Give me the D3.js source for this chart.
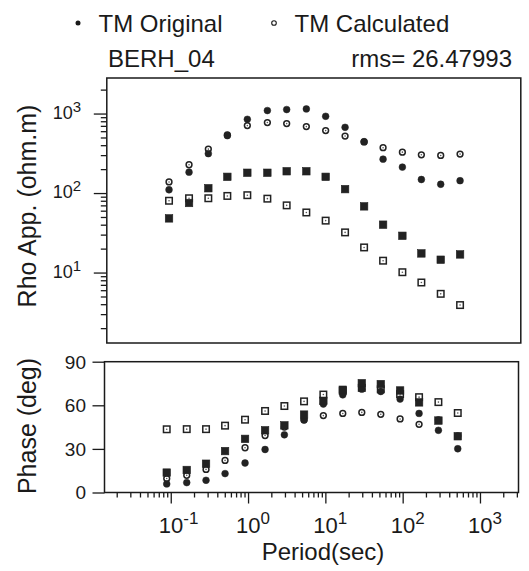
<!DOCTYPE html>
<html>
<head>
<meta charset="utf-8">
<script src="https://cdn.jsdelivr.net/npm/d3@7"></script>
<style>
  body { margin: 0; background: #fff; }
  svg { display: block; font-family: "Liberation Sans", Arial, sans-serif; fill: #1a1a1a; }
</style>
</head>
<body>
<div id="chart"></div>
<script>
/* MT sounding BERH_04: apparent resistivity and phase against period */

// periods (sec), four per decade
const periods = [0.0887, 0.161, 0.286, 0.504, 0.914, 1.66, 2.95, 5.30, 9.42, 16.8, 29.6, 52.1, 92.6, 163, 290, 516];

// apparent resistivity (ohm.m)
const rhoTmObs  = [110, 183, 313, 527, 847, 1091, 1123, 1143, 924, 671, 443, 267, 212, 148, 129, 143];
const rhoTmCalc = [138, 227, 357, 540, 705, 770, 748, 685, 610, 521, 440, 372, 327, 303, 297, 309];
const rhoTeObs  = [48, 75, 115, 160, 180, 180, 188, 188, 160, 112, 68, 40, 29, 17.4, 14.5, 16.9];
const rhoTeCalc = [80, 86, 86, 92, 94, 85, 70, 57, 45, 32, 20.7, 14.1, 10.1, 7.5, 5.4, 3.9];

// phase (deg)
const phTmObs  = [5.9, 6.8, 8.4, 13, 20.3, 29.6, 39.7, 50.1, 60.9, 67.2, 71.1, 69.5, 64.3, 54.4, 42.8, 30.1];
const phTmCalc = [9.6, 11.8, 15.9, 22.1, 30.8, 39.2, 45, 49.9, 52.9, 54.4, 55.1, 53.8, 50.6, 46.9, 50, 39];
const phTeObs  = [13.7, 15.5, 19.8, 28.5, 36.9, 42.8, 46.2, 53.6, 63.1, 70.7, 75.2, 74.6, 70.2, 62, 49.5, 38.7];
const phTeCalc = [43.5, 43.6, 43.6, 46, 50.1, 56.1, 59.5, 62.7, 67.4, 70, 72, 71, 67.7, 65.6, 62.2, 54.7];

// tick labels
const periodDecades = [-1, 0, 1, 2, 3];
const rhoDecades = [1, 2, 3];
const phaseTicks = [0, 30, 60, 90];

const station = "BERH_04",
      rmsText = "rms= 26.47993";

const width = 529,
      height = 571,
      ink = "#1a1a1a";

let svg = d3.select("#chart")
    .append("svg")
    .attr("width", width)
    .attr("height", height);

/* Scales: both panels share the period axis, the scan has the top panel nudged right */
const xTop = d3.scaleLog().domain([0.0139, 3150]).range([106.8, 520.8]);
const xBot = d3.scaleLog().domain([0.0139, 3150]).range([104.5, 518.5]);
const yRho = d3.scaleLog().domain([1.3, 2800]).range([343, 78]);
const yPh = d3.scaleLinear().domain([0, 90]).range([492.5, 361.7]);

const isDecade = v => Math.abs(Math.log10(v) - Math.round(Math.log10(v))) < 1e-9;

function styleAxis(g) {
    g.select(".domain").remove();
    g.selectAll("line").attr("stroke", ink).attr("stroke-width", 1.3);
}

/* ---- top panel: rho ---- */
svg.append("g")
    .attr("transform", `translate(${xTop.range()[0]},0)`)
    .call(d3.axisLeft(yRho).tickValues(yRho.ticks().filter(v => !isDecade(v))).tickSize(6).tickFormat(""))
    .call(styleAxis);

svg.append("g")
    .attr("transform", `translate(${xTop.range()[0]},0)`)
    .call(d3.axisLeft(yRho).tickValues(rhoDecades.map(d => 10 ** d)).tickSize(13).tickFormat(""))
    .call(styleAxis);

svg.append("rect")
    .attr("x", xTop.range()[0])
    .attr("y", yRho.range()[1])
    .attr("width", xTop.range()[1] - xTop.range()[0])
    .attr("height", yRho.range()[0] - yRho.range()[1])
    .attr("fill", "none")
    .attr("stroke", ink)
    .attr("stroke-width", 1.5);

let rhoLab = svg.selectAll(".rholab")
    .data(rhoDecades)
    .join("text")
    .attr("class", "rholab")
    .attr("x", 81)
    .attr("y", d => yRho(10 ** d) + 5)
    .attr("text-anchor", "end")
    .style("font-size", "18px");
rhoLab.append("tspan").text("10");
rhoLab.append("tspan").attr("dy", -7).style("font-size", "15px").text(d => d);

/* ---- bottom panel: phase ---- */
svg.append("g")
    .attr("transform", `translate(0,${yPh.range()[0]})`)
    .call(d3.axisBottom(xBot).tickValues(xBot.ticks().filter(v => !isDecade(v))).tickSize(5).tickFormat(""))
    .call(styleAxis);

svg.append("g")
    .attr("transform", `translate(0,${yPh.range()[0]})`)
    .call(d3.axisBottom(xBot).tickValues(periodDecades.map(d => 10 ** d)).tickSize(11).tickFormat(""))
    .call(styleAxis);

svg.append("g")
    .attr("transform", `translate(${xBot.range()[0]},0)`)
    .call(d3.axisLeft(yPh).tickValues(phaseTicks).tickSize(12).tickFormat(""))
    .call(styleAxis);

svg.append("rect")
    .attr("x", xBot.range()[0])
    .attr("y", yPh.range()[1])
    .attr("width", xBot.range()[1] - xBot.range()[0])
    .attr("height", yPh.range()[0] - yPh.range()[1])
    .attr("fill", "none")
    .attr("stroke", ink)
    .attr("stroke-width", 1.5);

svg.selectAll(".phlab")
    .data(phaseTicks)
    .join("text")
    .attr("class", "phlab")
    .attr("x", 86)
    .attr("y", d => yPh(d))
    .attr("dy", "0.36em")
    .attr("text-anchor", "end")
    .style("font-size", "19px")
    .text(d => d);

let perLab = svg.selectAll(".perlab")
    .data(periodDecades)
    .join("text")
    .attr("class", "perlab")
    .attr("x", d => xBot(10 ** d) - 12) // centre the "10" on the tick
    .attr("y", 533)
    .style("font-size", "22px");
perLab.append("tspan").text("10");
perLab.append("tspan").attr("dy", -9).style("font-size", "17px").text(d => d < 0 ? "-" + (-d) : d);

/* ---- markers ---- */
function drawSeries(values, x, y, shape) {
    let pts = periods.map((p, i) => ({ p: p, v: values[i] }));
    let g = svg.append("g");
    if (shape === "openSquare" || shape === "fillSquare") {
        let s = shape === "fillSquare" ? 7.5 : 6.5;
        g.selectAll("rect")
            .data(pts)
            .join("rect")
            .attr("x", d => x(d.p) - s / 2)
            .attr("y", d => y(d.v) - s / 2)
            .attr("width", s)
            .attr("height", s)
            .attr("fill", shape === "fillSquare" ? "#222" : "#fff")
            .attr("stroke", "#222")
            .attr("stroke-width", shape === "fillSquare" ? 0.6 : 1.5);
    } else {
        g.selectAll("circle.m")
            .data(pts)
            .join("circle")
            .attr("class", "m")
            .attr("cx", d => x(d.p))
            .attr("cy", d => y(d.v))
            .attr("r", shape === "fillCircle" ? 3.4 : 2.9)
            .attr("fill", shape === "fillCircle" ? "#222" : "#fff")
            .attr("stroke", "#222")
            .attr("stroke-width", shape === "fillCircle" ? 0.5 : 1.5);
    }
    if (shape === "openSquare" || shape === "openCircle") { // little centre dot
        g.selectAll("circle.dot")
            .data(pts)
            .join("circle")
            .attr("class", "dot")
            .attr("cx", d => x(d.p))
            .attr("cy", d => y(d.v))
            .attr("r", 0.8)
            .attr("fill", "#555");
    }
}

drawSeries(rhoTmCalc, xTop, yRho, "openCircle");
drawSeries(rhoTeCalc, xTop, yRho, "openSquare");
drawSeries(rhoTmObs, xTop, yRho, "fillCircle");
drawSeries(rhoTeObs, xTop, yRho, "fillSquare");

drawSeries(phTmCalc, xBot, yPh, "openCircle");
drawSeries(phTeCalc, xBot, yPh, "openSquare");
drawSeries(phTmObs, xBot, yPh, "fillCircle");
drawSeries(phTeObs, xBot, yPh, "fillSquare");

/* ---- titles and legend ---- */
svg.append("circle").attr("cx", 78).attr("cy", 23).attr("r", 2.5).attr("fill", ink);
svg.append("text").attr("x", 98.5).attr("y", 31.5).style("font-size", "24px").text("TM Original");
svg.append("circle").attr("cx", 274).attr("cy", 23).attr("r", 2.3)
    .attr("fill", "#fff").attr("stroke", ink).attr("stroke-width", 1.1);
svg.append("text").attr("x", 294.5).attr("y", 31.5).style("font-size", "24px").text("TM Calculated");

svg.append("text").attr("x", 108).attr("y", 67).style("font-size", "24px").text(station);
svg.append("text").attr("x", 512).attr("y", 67).attr("text-anchor", "end").style("font-size", "24px").text(rmsText);

svg.append("text")
    .attr("transform", "translate(36,206) rotate(-90)")
    .attr("text-anchor", "middle")
    .style("font-size", "25px")
    .text("Rho App. (ohm.m)");

svg.append("text")
    .attr("transform", "translate(36,426) rotate(-90)")
    .attr("text-anchor", "middle")
    .style("font-size", "25px")
    .text("Phase (deg)");

svg.append("text")
    .attr("x", 323)
    .attr("y", 560)
    .attr("text-anchor", "middle")
    .style("font-size", "24px")
    .text("Period(sec)");
</script>
</body>
</html>
